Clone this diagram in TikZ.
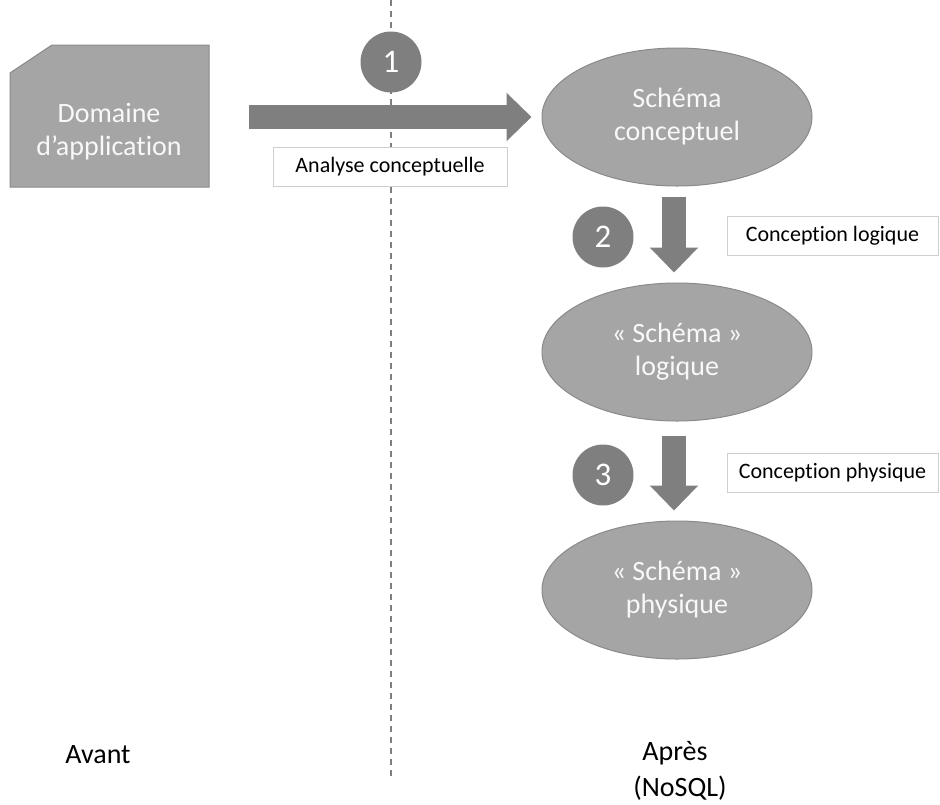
\documentclass[tikz,border=0pt]{standalone}
\usepackage{fontspec}
\setmainfont{Carlito}[Ligatures=NoCommon]
\usetikzlibrary{shapes.geometric,arrows.meta}
\definecolor{shapefill}{HTML}{A5A5A5}
\definecolor{shapeline}{HTML}{8A8A8A}
\definecolor{dark}{HTML}{7F7F7F}
\definecolor{boxline}{HTML}{CFCFCF}
\definecolor{lighttext}{HTML}{F8F8F8}
\begin{document}
\begin{tikzpicture}[x=1pt,y=-1pt,
  big/.style={font=\fontsize{28}{33}\selectfont},
  ell/.style={ellipse, fill=shapefill, draw=shapeline, line width=1pt, minimum width=270pt, minimum height=138pt, inner sep=0pt, text=lighttext, align=center, big},
  num/.style={circle, fill=dark, minimum size=61pt, inner sep=0pt, text=white, font=\fontsize{33}{33}\selectfont},
  lbl/.style={rectangle, fill=white, draw=boxline, line width=1pt, minimum height=39pt, inner sep=0pt, font=\fontsize{22}{24}\selectfont},
  blk/.style={dark, line width=24pt, -{Triangle[width=47pt,length=25pt]}},
  sep/.style={dark, line width=1.5pt, dash pattern=on 6pt off 5pt},
]
\useasboundingbox (0,0) rectangle (940,804);

% separator
\coordinate (dtop) at (391,0);
\coordinate (dbot) at (391,780);
\draw[sep] (dtop) -- (dbot);

% domain shape
\filldraw[fill=shapefill, draw=shapeline, line width=1pt]
  (10,73) -- (52,45) -- (209,45) -- (209,187) -- (10,187) -- cycle;
\node[text=lighttext, align=center, big] (dom) at (109,132) {Domaine\\d’application};

% ellipses
\node[ell] (sc) at (677,117) {Schéma\\conceptuel};
\node[ell] (sl) at (677,352) {« Schéma »\\logique};
\node[ell] (sp) at (677,590) {« Schéma »\\physique};

% block arrows
\coordinate (a1s) at (249,117);
\draw[blk] (a1s) -- ([xshift=-10pt]sc.west);
\draw[blk] ([xshift=-3pt,yshift=-10pt]sc.south) -- ([xshift=-3pt,yshift=10pt]sl.north);
\draw[blk] ([xshift=-3pt,yshift=-14pt]sl.south) -- ([xshift=-3pt,yshift=10pt]sp.north);

% label boxes
\node[lbl, minimum width=234pt] (b1) at (390,167) {Analyse conceptuelle};
\node[lbl, minimum width=211pt] (b2) at (832.5,235.5) {Conception logique};
\node[lbl, minimum width=211pt] (b3) at (832.5,472.5) {Conception physique};

% numbers
\node[num] (n1) at (391,62) {1};
\node[num] (n2) at (603,237) {2};
\node[num] (n3) at (603,475) {3};

% bottom labels
\node[big] (avant) at (98,755) {Avant};
\node[big] (apres) at (675,753) {Après};
\node[big] (nosql) at (680,788) {(NoSQL)};
\end{tikzpicture}
\end{document}
